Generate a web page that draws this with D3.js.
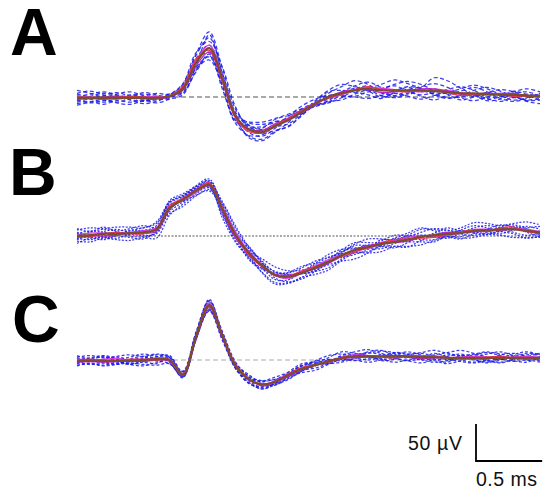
<!DOCTYPE html>
<html>
<head>
<meta charset="utf-8">
<script src="https://cdn.jsdelivr.net/npm/d3@7"></script>
<style>
    body { margin: 0; background: #fff; }
    svg { display: block; font-family: "Liberation Sans", Arial, sans-serif; }
</style>
</head>
<body>
<div id="chart"></div>
<script>
    // time axis (ms) shared by every trace
    var timeMs = [0, 0.1, 0.2, 0.3, 0.4, 0.5, 0.6, 0.7, 0.8, 0.9, 1.0, 1.1, 1.2, 1.3, 1.4, 1.5, 1.6, 1.7,
        1.8, 1.9, 2.0, 2.1, 2.2, 2.3, 2.4, 2.5, 2.6, 2.7, 2.8, 2.9, 3.0, 3.1, 3.2, 3.3, 3.4, 3.5];

    // averaged waveforms (uV)
    var meanA = [-1, -1, -1, -1, -1, -1, -1, 1, 11, 46, 66, 24, -26, -44, -47, -39, -31, -20, -9, 0, 5, 9, 11, 9, 9, 9, 9, 8, 7, 5, 5, 4, 3, 3, 2, 1];
    var meanB = [0, 1, 3, 3, 4, 5, 9, 38, 49, 61, 69, 36, 1, -23, -40, -53, -55, -50, -43, -35, -26, -19, -15, -11, -8, -5, -1, 1, 3, 4, 7, 8, 9, 9, 7, 5];
    var meanC = [-1, -1, -1, -1, -1, 0, 1, 0, -20, 32, 74, 32, -8, -26, -33, -29, -20, -12, -7, -2, 3, 5, 5, 5, 5, 5, 4, 4, 3, 3, 3, 3, 3, 3, 3, 3];

    // single sweeps, as offsets from the average (uV) - dashed blue ones
    var sweepsA = [
        [6, 9, 4, -2, 3, 5, 2, 1, 4, 10, 14, 8, 2, -4, -6, -3, 2, 4, 1, -3, 2, 6, 9, 4, -2, 1, 5, 10, 6, -1, -4, 2, 7, 4, -1, 3],
        [-8, -5, -9, -4, -6, -3, -7, -4, -8, -10, -8, -10, -6, 4, 7, 5, 2, -1, -3, -6, -9, -5, -2, -7, -10, -6, -1, -4, -8, -5, -2, -6, -9, -4, -7, -5],
        [3, -2, -6, -1, 4, 0, -3, 2, 6, 12, 22, 14, 9, 5, -2, -6, -8, -4, 0, 5, 9, 13, 6, -3, -8, -4, 3, 18, 15, 7, -2, -7, -3, 4, 9, 6],
        [-4, 2, 6, 3, -2, -5, -1, 3, -5, -12, -10, -14, -10, -8, -4, 1, 5, 8, 6, 2, -4, -9, -13, -7, -1, 5, 2, -5, -9, -3, 4, 9, 5, -2, -6, -3],
        [10, 6, 1, 5, 8, 3, -1, -2, 2, 6, 4, 6, 5, 9, 10, 6, 1, -3, 2, 7, 4, -2, 1, 8, 14, 9, 3, -4, -1, 6, 11, 7, 1, -3, 2, -1],
        [-10, -6, -2, -7, -9, -4, 0, 1, -3, -6, -12, -4, -3, -9, -10, -7, -9, -5, -1, 2, -3, -8, -4, 2, 6, -1, -8, -12, -5, 0, -3, -9, -6, 1, 5, 0],
        [1, 5, 8, 4, 0, 7, 4, -1, 3, 4, -6, -2, 2, 6, 3, -1, -5, -2, 4, 9, 12, 5, -1, 2, 8, 12, 8, 1, -2, 3, 8, 3, -5, -9, -4, 2],
        [-2, -7, -4, 1, -3, -8, -5, 0, -6, -4, 18, 6, -2, -11, -12, -8, -3, 3, -2, -8, -6, 1, 4, -3, -7, -2, -6, -2, 3, 9, 4, -4, -2, 5, 1, -6],
        [5, 1, -3, -6, -1, 2, 6, 3, 7, 14, 9, 16, 12, 3, 5, 9, 6, 2, -4, -7, -2, 3, -3, -9, -4, -8, -12, -6, 0, -6, -10, -4, 2, -1, -8, -10],
        [-6, -1, 3, 7, 2, -4, -2, -3, 1, -8, -16, -8, -8, 10, 13, 10, 8, 4, -2, -5, 1, -3, -8, -11, -3, 4, -2, 3, -3, -9, -5, 2, -1, -7, -3, 4]
    ];
    var sweepsB = [
        [8, 10, 7, 9, 8, 6, 10, 8, 5, 4, 3, 10, 12, 8, 6, 4, 5, 7, 9, 6, 4, 8, 11, 7, 3, 6, 10, 8, 4, 7, 11, 9, 5, 8, 12, 10],
        [-7, -9, -6, -8, -10, -7, -12, -10, -6, -4, -2, -12, -10, -7, -9, -10, -8, -6, -9, -11, -7, -4, -8, -10, -6, -9, -11, -7, -4, -7, -9, -6, -8, -11, -9, -7],
        [3, 6, 2, -1, 4, 2, 5, 8, 6, 5, 6, -4, -8, -4, 2, 5, 3, -1, -4, -2, 3, 6, 2, -2, 1, 5, 2, -3, -1, 4, 7, 3, -2, 1, 6, 4],
        [-3, -6, -3, 1, -2, -4, -6, -3, 1, 3, -3, 8, 9, 5, -3, -6, -4, 1, 4, 6, 2, -3, -6, -1, 4, 2, -4, -6, -2, 3, -1, -5, -3, 2, -2, -6],
        [10, 5, 9, 4, 6, 9, 3, -5, -3, -2, -4, -8, -4, 2, 9, 11, 8, 4, 1, 3, 7, 10, 6, 2, 5, 9, 12, 6, 1, 3, -2, 1, 6, 3, -1, 2],
        [-10, -4, -8, -3, -6, -9, -2, 6, 4, 2, 4, 6, 3, -2, -10, -12, -9, -6, -2, -4, -8, -12, -8, -3, -6, -10, -5, 0, -4, -8, -4, 1, -3, -6, -10, -5],
        [5, 0, 3, 6, 1, -2, 1, -8, -9, -7, -6, 5, 2, 9, 4, 0, -2, 2, 6, 10, 8, 3, 0, 4, 9, 5, -1, 3, 8, 2, -3, -6, -1, 4, 1, -3],
        [-5, 0, -4, -6, -1, 3, -1, 10, 8, 6, 5, -6, -3, -9, -5, 1, 3, -1, -5, -8, -5, 0, 3, -3, -8, -4, 2, -2, -6, 0, 4, 6, 2, -4, -6, -1],
        [1, 4, 6, 3, -4, -6, -4, -2, 3, 7, 8, 2, 5, -6, -4, 3, 6, 9, 6, 0, -3, -6, -3, 6, 1, -3, -7, -9, -3, -5, 1, -2, -6, -1, 4, 8],
        [-1, -3, -5, -2, 3, 6, 8, 4, -2, -6, -8, -2, -4, 6, 3, -4, -7, -8, -5, 1, 5, 2, -2, -6, -2, 3, 6, 9, 5, -1, -6, -3, 3, 6, 3, -4]
    ];
    var sweepsC = [
        [5, 7, 4, 6, 8, 5, 7, 4, 3, 5, 6, 4, 3, 4, 5, 3, 2, 4, 6, 8, 5, 2, 4, 7, 5, 3, 6, 9, 6, 3, 5, 8, 5, 2, 4, 6],
        [-6, -4, -7, -5, -3, -6, -8, -5, -4, -3, -6, -3, -4, -5, -6, -4, -3, -5, -7, -4, -2, -5, -8, -5, -3, -6, -8, -4, -2, -5, -7, -4, -2, -5, -3, -6],
        [3, -1, 2, 5, 1, -2, 3, 6, 4, 2, 8, 2, 1, -2, -4, -2, 1, 4, 2, -1, 3, 6, 9, 4, -1, 2, 5, 1, -3, 0, 4, 7, 3, -1, 2, 5],
        [-3, 2, -2, -4, 0, 3, -2, -5, -2, -2, -7, -3, -2, 2, 4, 3, -1, -3, -1, 2, -2, -6, -3, 1, 4, -1, -4, -2, 2, 5, 1, -3, -6, -2, 1, -3],
        [7, 3, 6, 2, 5, 8, 4, 2, -2, -4, 3, -4, -3, -6, -3, 1, 4, 7, 4, 1, -2, 1, 5, 2, -3, -6, -2, 3, 7, 10, 6, 1, -2, 1, 6, 3],
        [-7, -3, -6, -2, -5, -8, -4, -1, 5, 4, -5, 4, 5, 3, -1, -4, -6, -3, 0, -3, -6, -3, 0, -4, -8, -5, -1, -5, -8, -4, 0, -4, -7, -3, 0, -4],
        [1, 4, 7, 3, -2, 2, 6, 3, 1, 3, 4, 6, 3, 6, 2, -2, -5, -2, 2, 5, 8, 4, -1, -3, 2, 6, 3, -1, 4, 2, -3, -6, -3, 4, 8, 4],
        [-2, -5, -3, 1, -4, -1, 3, -3, -3, -4, -8, -6, -2, -4, -6, -2, 2, 5, 3, -3, -1, 3, 1, -6, -4, 1, -2, 5, 1, -3, -6, -2, 4, 6, 2, -2],
        [4, 0, -3, -5, 2, 5, 1, -2, 2, 6, 6, 1, -1, 1, 5, 6, 3, -1, -4, -2, 2, -2, -5, -1, 5, 3, -3, -7, -4, -1, 2, 5, 8, 3, -3, -1],
        [-4, 1, 5, -1, -5, -3, -6, 4, -1, -5, 1, -2, -4, -1, 1, -5, -3, 1, 5, 3, -4, -1, 6, 8, 1, -2, 2, -3, -6, 3, -2, -7, -1, -4, -6, 2]
    ];

    // fitted sweeps, offsets from the average (uV) - solid magenta / red ones
    var fitsA = [
        [2, 1, -1, -2, 0, 1, 2, 0, 1, 3, 4, 3, 1, -1, -2, -1, 1, 2, 1, -1, -2, 0, 2, 3, 1, -1, -2, 0, 2, 1, -1, 0, 2, 1, 0, 1],
        [-2, -1, 1, 2, 1, -1, -2, -1, -2, -4, -5, -3, -2, 1, 2, 3, 1, -1, -2, 0, 2, 1, -1, -3, -2, 0, 2, 3, 1, -1, -2, -1, 1, 2, 0, -1],
        [1, -1, -2, 0, 2, 1, -1, 1, 3, 5, -3, -4, -3, -3, -1, 1, 3, 2, 0, -2, -1, 1, 3, 1, -1, -2, 0, 1, -1, -3, -1, 1, 0, -2, -1, 1]
    ];
    var fitsB = [
        [2, 3, 1, -1, 1, 2, 2, 1, -1, -2, -1, 3, 4, 2, 1, -1, -2, 0, 2, 3, 1, -1, -2, 0, 2, 3, 1, -1, -2, 0, 2, 1, -1, 0, 2, 1],
        [-2, -1, -3, -2, 0, -1, -3, -2, 1, 2, 2, -3, -4, -2, -1, 1, 2, 1, -1, -2, -1, 1, 2, 1, -1, -2, -1, 1, 2, 1, -1, -2, -1, 1, 0, -2],
        [0, -2, 0, 2, -1, -2, 1, 3, 2, 1, 3, 1, -1, -3, -2, 0, 1, 3, 2, 0, -2, -3, 0, 2, 3, 1, -2, -3, -1, 2, 1, -1, 2, 3, -1, -1]
    ];
    var fitsC = [
        [2, 1, 2, 3, 1, 0, 2, 1, 2, 1, 3, 2, 1, -1, 0, 1, 2, 1, 0, -1, 1, 2, 1, 0, -1, 1, 2, 1, 0, 1, 2, 1, 0, 1, 2, 1],
        [-2, -1, -2, -1, 0, -2, -1, -2, -1, -2, -3, -2, -1, 0, -2, -1, -2, -1, 0, 1, -1, -2, -1, 0, 1, -1, -2, -1, 0, -1, -2, -1, 0, -1, -2, -1],
        [0, 2, -1, 0, 2, 1, -1, 0, 1, -1, -2, 1, 2, 1, -1, 0, 1, 2, 1, -1, -1, 0, 1, -1, -2, 0, 1, 2, 0, -2, -1, 1, 2, 0, -1, 0]
    ];

    var panelLabels = ['A', 'B', 'C'];
    var scaleBarUV = 50;
    var scaleBarMs = 0.5;
    var scaleBarText = ['50 µV', '0.5 ms'];

    // ---------- drawing ----------
    var W = 550, H = 496;
    var panels = [
        { mean: meanA, sweeps: sweepsA, fits: fitsA, base: 97, dash: '4,2.5', zero: '#555', zeroDash: '5,3', lx: 10, ly: 55 },
        { mean: meanB, sweeps: sweepsB, fits: fitsB, base: 236, dash: '2,1.5', zero: '#555', zeroDash: '2,1.5', lx: 9, ly: 195 },
        { mean: meanC, sweeps: sweepsC, fits: fitsC, base: 360, dash: '3,2', zero: '#aaa', zeroDash: '5,3', lx: 12, ly: 342 }
    ];
    var fitColors = ['#e03ce0', '#b424c8', '#f0305a'];

    var svg = d3.select('#chart').append('svg').attr('width', W).attr('height', H);

    var x = d3.scaleLinear().domain([0, 3.5]).range([77, 540]);
    var pxPerUV = 37 / 50;

    var line = d3.line().curve(d3.curveCatmullRom.alpha(0.5));

    panels.forEach(function (p, k) {
        var y = d3.scaleLinear().domain([0, 50]).range([p.base, p.base - 50 * pxPerUV]);
        var g = svg.append('g').attr('class', 'panel-' + panelLabels[k]);

        var pts = function (dev) {
            return timeMs.map(function (t, i) { return [x(t), y(p.mean[i] + dev[i])]; });
        };

        // zero line
        g.append('line')
            .attr('x1', x(0)).attr('x2', x(3.5))
            .attr('y1', y(0)).attr('y2', y(0))
            .attr('stroke', p.zero).attr('stroke-width', 1.2)
            .attr('stroke-dasharray', p.zeroDash);

        g.selectAll('path.sweep').data(p.sweeps).enter().append('path')
            .attr('class', 'sweep')
            .attr('d', function (d) { return line(pts(d)); })
            .attr('fill', 'none')
            .attr('stroke', '#1c1ce6')
            .attr('stroke-opacity', 0.85)
            .attr('stroke-width', 1.25)
            .attr('stroke-dasharray', p.dash);

        g.selectAll('path.fit').data(p.fits).enter().append('path')
            .attr('class', 'fit')
            .attr('d', function (d) { return line(pts(d)); })
            .attr('fill', 'none')
            .attr('stroke', function (d, i) { return fitColors[i]; })
            .attr('stroke-width', 1.3);

        // average on top
        g.append('path')
            .attr('d', line(p.mean.map(function (v, i) { return [x(timeMs[i]), y(v)]; })))
            .attr('fill', 'none')
            .attr('stroke', '#7d4c2c')
            .attr('stroke-width', 2.3);

        svg.append('text')
            .attr('x', p.lx).attr('y', p.ly)
            .attr('font-size', 66).attr('font-weight', 'bold')
            .attr('fill', '#000')
            .text(panelLabels[k]);
    });

    // scale bar
    var bx = 476, by = 461;
    var barLen = x(scaleBarMs) - x(0);
    var barY = d3.scaleLinear().domain([0, 50]).range([by, by - 50 * pxPerUV]);
    svg.append('path')
        .attr('d', 'M' + bx + ',' + barY(scaleBarUV) + 'V' + by + 'H' + (bx + barLen))
        .attr('fill', 'none').attr('stroke', '#000').attr('stroke-width', 1.8);

    svg.append('text')
        .attr('x', 462).attr('y', 450)
        .attr('text-anchor', 'end')
        .attr('font-size', 19.5)
        .attr('textLength', 54)
        .attr('fill', '#111')
        .text(scaleBarText[0]);
    svg.append('text')
        .attr('x', 476).attr('y', 486)
        .attr('font-size', 19.5)
        .attr('textLength', 61)
        .attr('fill', '#111')
        .text(scaleBarText[1]);
</script>
</body>
</html>
